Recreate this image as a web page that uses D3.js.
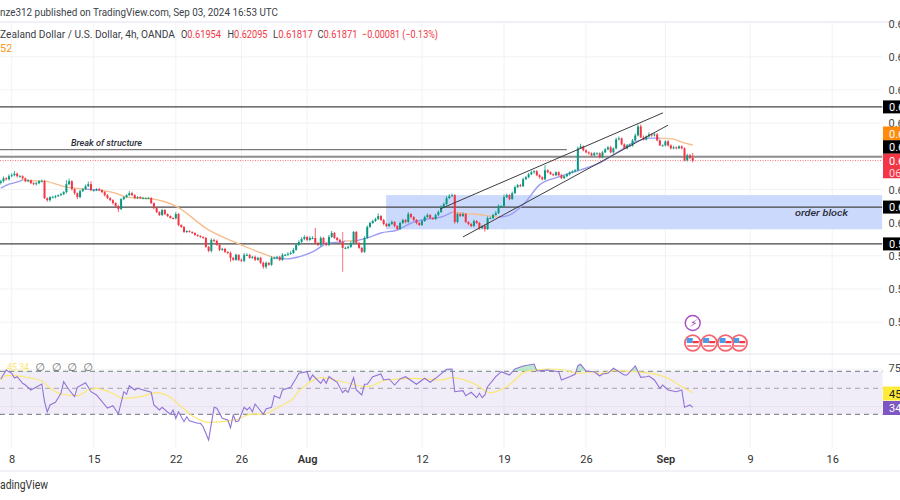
<!DOCTYPE html>
<html><head><meta charset="utf-8">
<style>html,body{margin:0;padding:0;background:#fff;overflow:hidden}svg{display:block}text{font-family:Roboto,sans-serif}</style>
<script src="https://cdn.jsdelivr.net/npm/d3@7/dist/d3.min.js"></script></head><body>
<svg id="c" width="900" height="500"></svg>
<script>
// 4h closes, first entry is bar -4, last is bar 249
const closes = [
0.6125,0.6134,0.6131,0.6140,0.6143,0.6148,0.6140,0.6140,0.6134,0.6125,
0.6128,0.6119,0.6116,0.6119,0.6125,0.6125,0.6074,0.6068,0.6077,0.6077,
0.6080,0.6083,0.6086,0.6092,0.6116,0.6125,0.6101,0.6089,0.6077,0.6095,
0.6101,0.6110,0.6116,0.6098,0.6098,0.6101,0.6098,0.6092,0.6083,0.6074,
0.6068,0.6059,0.6050,0.6041,0.6071,0.6077,0.6083,0.6089,0.6083,0.6074,
0.6077,0.6074,0.6074,0.6074,0.6074,0.6059,0.6044,0.6032,0.6023,0.6038,
0.6026,0.6020,0.6014,0.6013,0.6026,0.5993,0.5987,0.5972,0.5975,0.5972,
0.5969,0.5963,0.5960,0.5957,0.5954,0.5927,0.5915,0.5948,0.5945,0.5933,
0.5918,0.5921,0.5912,0.5909,0.5894,0.5888,0.5903,0.5888,0.5885,0.5903,
0.5903,0.5894,0.5897,0.5888,0.5894,0.5879,0.5867,0.5879,0.5873,0.5894,
0.5894,0.5897,0.5888,0.5903,0.5903,0.5906,0.5909,0.5918,0.5933,0.5942,
0.5951,0.5957,0.5948,0.5954,0.5954,0.5939,0.5933,0.5954,0.5939,0.5933,
0.5957,0.5969,0.5954,0.5948,0.5942,0.5924,0.5924,0.5927,0.5939,0.5972,
0.5939,0.5924,0.5912,0.5954,0.5987,0.5999,0.6005,0.6011,0.6020,0.6008,
0.5996,0.5990,0.5996,0.6002,0.5990,0.5981,0.5999,0.6008,0.6002,0.6026,
0.6017,0.6008,0.5999,0.5993,0.6005,0.6017,0.6023,0.6014,0.6011,0.6023,
0.6032,0.6047,0.6056,0.6074,0.6080,0.6083,0.6002,0.6026,0.6020,0.6026,
0.6002,0.5996,0.5990,0.6005,0.5999,0.5984,0.5990,0.5981,0.6014,0.6014,
0.6023,0.6029,0.6050,0.6050,0.6077,0.6083,0.6071,0.6089,0.6107,0.6113,
0.6110,0.6131,0.6137,0.6146,0.6152,0.6155,0.6143,0.6137,0.6131,0.6158,
0.6152,0.6146,0.6143,0.6152,0.6143,0.6134,0.6140,0.6146,0.6152,0.6155,
0.6158,0.6224,0.6230,0.6218,0.6212,0.6209,0.6203,0.6209,0.6209,0.6197,
0.6212,0.6221,0.6227,0.6212,0.6224,0.6251,0.6254,0.6236,0.6224,0.6233,
0.6233,0.6248,0.6263,0.6290,0.6257,0.6251,0.6260,0.6266,0.6263,0.6266,
0.6248,0.6233,0.6233,0.6245,0.6233,0.6224,0.6227,0.6224,0.6230,0.6224,
0.6188,0.6203,0.6195,0.6187];
// wick lengths above and below the candle body, in pips
const wickUp = [
4,5,3,6,6,8,3,4,3,2, 3,2,3,4,3,5,4,2,3,4, 3,2,4,3,12,8,3,2,2,4, 3,5,8,9,3,3,4,3,3,3,
3,3,3,4,3,3,3,6,4,3, 3,3,4,2,3,3,2,3,2,4, 3,2,2,2,6,3,2,3,2,2, 2,2,2,2,2,3,3,5,4,4,
3,3,3,2,4,3,4,2,3,6, 5,3,3,4,3,3,4,4,2,5, 4,3,3,5,3,5,5,6,4,5, 5,5,3,5,5,30,3,5,3,3,
6,6,3,3,3,30,4,4,6,3, 3,3,3,5,5,4,4,4,8,3, 3,3,4,5,3,3,4,4,3,6, 3,3,3,3,4,4,5,3,3,4,
5,5,5,6,6,5,3,5,4,5, 3,3,3,4,3,3,3,6,5,4, 4,6,5,3,8,5,3,5,5,4, 4,5,4,4,5,4,4,3,3,15,
3,3,3,3,3,4,3,3,3,3, 4,5,8,3,3,3,3,4,3,3, 4,4,4,5,3,5,6,3,3,4, 5,4,6,6,6,6,3,6,4,4,
4,3,3,3,4,3,5,3,3,3, 3,5,4,15];
const wickDown = [
5,4,4,4,3,3,4,3,4,3, 3,3,3,4,3,3,3,5,5,3, 4,3,3,3,4,3,4,5,6,3, 3,3,3,3,4,3,3,3,4,3,
3,4,4,9,3,3,3,3,3,3, 3,3,2,3,2,3,4,3,3,3, 3,3,2,3,3,4,3,3,3,2, 3,3,3,3,3,3,4,5,4,3,
4,3,4,4,12,3,3,4,3,4, 3,3,3,4,3,4,6,6,3,3, 4,5,4,3,4,3,3,3,3,3, 3,4,4,3,4,5,4,5,3,4,
4,3,3,3,4,72,4,4,3,4, 3,3,4,3,3,3,3,3,3,3, 4,4,3,3,4,3,3,3,4,3, 4,3,4,3,3,3,3,4,3,3,
3,3,3,3,3,3,5,4,3,3, 3,4,4,4,3,5,4,8,3,3, 3,2,3,3,4,3,3,2,3,3, 3,3,2,3,3,4,3,4,4,3,
3,2,3,3,3,3,2,3,4,3, 3,3,2,3,3,4,3,2,3,3, 3,2,3,3,4,3,3,3,2,3, 3,4,3,3,2,3,3,3,4,3,
3,2,3,3,4,3,3,3,2,3, 3,4,4,5];
const firstBar = -4;
const maBars = [-4,-1,3,4,7,11,20,27,32,38,42,51,60,72,83,96,101,105,110,116,121,122,126,130,135,141,147,152,157,161,163,169,175,178,182,187,193,200,208,215,221,227,234,237,242,245,249];
const maVals = [0.6104,0.6116,0.6125,0.6129,0.6126,0.6126,0.6107,0.6101,0.6098,0.6089,0.6077,0.6072,0.6050,0.5978,0.5936,0.5894,0.5891,0.5897,0.5912,0.5939,0.5942,0.5945,0.5945,0.5954,0.5969,0.5978,0.6002,0.6011,0.6017,0.6032,0.6029,0.6026,0.6020,0.6017,0.6023,0.6054,0.6114,0.6138,0.6159,0.6180,0.6210,0.6240,0.6255,0.6255,0.6252,0.6243,0.6234];
const maRanges = [[-4,4,"blue"],[4,27,"orange"],[27,32,"blue"],[32,96,"orange"],[96,122,"blue"],[122,126,"orange"],[126,161,"blue"],[161,178,"orange"],[178,237,"blue"],[237,249,"orange"]];
const levelPrices = [0.6349,0.6199,0.6047,0.5936];
const structureLevel = 0.6220;
const structureEndBar = 203;
const currentPrice = 0.61871;
const zoneBars = [136.9,318.3];
const zonePrices = [0.6083,0.5980];
const channelBars = [[156.6,238.1],[165,240]];
const channelPrices = [[0.6041,0.6331],[0.5957,0.6294]];
const priceTicks = [0.66,0.65,0.64,0.63,0.62,0.61,0.60,0.59,0.58,0.57];
const priceLabelTicks = [0.66,0.65,0.64,0.63,0.61,0.60,0.59,0.58,0.57];
const timeTickBars = [0,30,60,84,108,150,180,210,239,270,300];
const timeTickLabels = ["8","15","22","26","Aug","12","19","26","Sep","9","16"];
const rsiBars = [-4,-2,0,1,2,4,5,7,11,12,13,14,16,18,19,21,23,24,27,29,31,35,37,39,41,42,43,45,46,51,52,54,55,58,59,60,61,63,64,65,68,69,70,72,74,75,77,79,80,81,82,83,85,86,87,88,89,92,93,95,96,98,99,102,104,105,108,109,110,113,114,115,116,119,121,122,123,125,126,128,129,130,132,135,136,138,140,142,144,148,151,153,155,159,161,162,165,166,168,170,171,172,173,174,177,179,182,184,187,191,192,196,200,201,204,206,207,208,210,213,215,216,218,220,224,225,228,230,232,233,235,237,238,240,243,245,246,248,249];
const rsiVals = [65.3,74.3,71,66.3,67.6,61,59.3,54.3,60.3,42.6,32.3,39.3,42,51,62.6,54.3,47.6,57,61.6,52.6,49.3,36.3,38.6,30.3,52.6,50,58.6,54.3,56,52,39.3,34.3,37,30,34.3,26,32.6,22.6,27.6,23.6,21,21,17.6,4.3,37,36,26,24.3,16.6,29.3,22.6,23.6,37,34.3,37,32.6,40.3,30,35.3,37,48.6,46,54.3,57,66,71,72.6,64.3,69.3,61,65.3,61,67.6,62,51.6,54.3,52,66.6,54.3,49.3,60,60,67.6,70.3,64.3,65.3,59.3,65.3,67.6,60,66,62,66,75,75.3,52.6,53.6,48.6,52,46.6,51,46.6,49.3,57.6,67.6,72.6,69.3,75.3,78.3,80.3,73.3,74.3,72.6,64.3,67.6,70,78.6,80,73.3,72.6,68.3,70.3,71,76,69.3,69.3,78.3,67,67.6,68.3,64.3,56,59.3,54.3,52.6,54.3,37,39.3,37];
const rsiMaBars = [-4,-2,1,6,11,14,18,24,28,31,36,41,47,53,57,62,66,72,80,83,87,92,99,103,105,108,113,120,130,137,147,157,161,170,175,181,188,196,202,207,213,215,220,231,240,244,249];
const rsiMaVals = [64.3,68.6,68.6,66.6,63.3,56.3,50.3,48.6,54.3,56,52,46,47.6,51.6,48.6,37.6,28.6,22,23.6,25.3,30,30.3,39.3,46,53.3,60,66.6,63.3,57.6,64.3,66,64.3,66.6,59.3,51.6,57.6,72.6,75.3,74.3,71,72.6,70.3,73.6,72,66,59.3,51.6];
const rsiLevels = [73,56,30];
const rsiTicks = [75,37.6];
const eventBars = [249,255,261,266];
const headline = "nze312 published on TradingView.com, Sep 03, 2024 16:53 UTC";
const symbolTitle = "Zealand Dollar / U.S. Dollar, 4h, OANDA";
const ohlcLabels = ["O","H","L","C"];
const ohlcValues = ["0.61954","0.62095","0.61817","0.61871"];
const changeLabel = "\u22120.00081 (\u22120.13%)";

const W=900,H=500,plotR=882.5;
const green="#089981",red="#f23645",grid="#f2f1f6",ink="#3a3d46";
const svg=d3.select("#c");
const x=d3.scaleLinear().domain([0,300]).range([11.7,832.2]);
const y=d3.scaleLinear().domain([0.57,0.65]).range([322.2,56.8]);
const r=d3.scaleLinear().domain([30,75]).range([414.3,369.3]);
const bars=closes.map((c,k)=>{const o=k?closes[k-1]:c-0.0005;
  return {i:k+firstBar,o,c,h:Math.max(o,c)+wickUp[k]*1e-4,l:Math.min(o,c)-wickDown[k]*1e-4};});
const clipDefs=svg.append("defs");
clipDefs.append("clipPath").attr("id","main").append("rect").attr("x",0).attr("y",22).attr("width",plotR).attr("height",331);
clipDefs.append("clipPath").attr("id","above").append("rect").attr("x",0).attr("y",340).attr("width",plotR).attr("height",r(rsiLevels[0])-340);
function label(px,py,txt,size,fill,len){
  const t=svg.append("text").attr("x",px).attr("y",py).attr("font-size",size).attr("fill",fill).text(txt);
  if(len) t.attr("textLength",len).attr("lengthAdjust","spacingAndGlyphs");
  return t;
}

// header bands
svg.append("rect").attr("x",0).attr("y",21).attr("width",W).attr("height",2).attr("fill","#f0f0f6");
label(0,16,headline,11,"#3c3f49",278);
const ly=38;
label(0,ly,symbolTitle,11,ink,175);
const lx=[181,227.5,273,317.5];
ohlcLabels.forEach((t,k)=>{
  const e=svg.append("text").attr("x",lx[k]).attr("y",ly).attr("font-size",11)
    .attr("textLength",40).attr("lengthAdjust","spacingAndGlyphs");
  e.append("tspan").attr("fill",ink).text(t);
  e.append("tspan").attr("fill",red).text(ohlcValues[k]);
});
label(362,ly,changeLabel,11,red,76);
label(0,52,"52",11,"#f7931a");

// grids
svg.append("g").selectAll("line").data(priceTicks.slice(1)).join("line")
 .attr("x1",0).attr("x2",plotR).attr("y1",d=>y(d)).attr("y2",d=>y(d)).attr("stroke",grid);
svg.append("g").selectAll("line").data(timeTickBars).join("line")
 .attr("x1",d=>x(d)).attr("x2",d=>x(d)).attr("y1",23).attr("y2",448).attr("stroke",grid);
svg.append("g").selectAll("line").data(rsiTicks).join("line")
 .attr("x1",0).attr("x2",plotR).attr("y1",d=>r(d)).attr("y2",d=>r(d)).attr("stroke",grid);

// main pane
const main=svg.append("g").attr("clip-path","url(#main)");
main.append("rect").attr("x",x(zoneBars[0])).attr("width",x(zoneBars[1])-x(zoneBars[0]))
 .attr("y",y(zonePrices[0])).attr("height",y(zonePrices[1])-y(zonePrices[0])).attr("fill","#cbd9fd");
main.selectAll(".lvl").data(levelPrices).join("line").attr("class","lvl")
 .attr("x1",0).attr("x2",plotR).attr("y1",d=>y(d)).attr("y2",d=>y(d))
 .attr("stroke",(d,k)=>k==1?"#8d8d8d":"#454545").attr("stroke-width",(d,k)=>k==1?2:1.3);
main.append("line").attr("x1",0).attr("x2",x(structureEndBar)).attr("y1",y(structureLevel)).attr("y2",y(structureLevel)).attr("stroke","#5a5a5a").attr("stroke-width",1);
main.append("line").attr("x1",0).attr("x2",plotR).attr("y1",y(currentPrice)).attr("y2",y(currentPrice))
 .attr("stroke",red).attr("stroke-opacity",.7).attr("stroke-dasharray","1 1.5");
const maPts=maBars.map((b,k)=>({b,v:maVals[k]}));
const ml=d3.line().x(d=>x(d.b)).y(d=>y(d.v)).curve(d3.curveMonotoneX);
const maCol={blue:"#9c9cf5",orange:"#f7bd8b"};
maRanges.forEach(([a,b,c])=>{
 main.append("path").attr("d",ml(maPts.filter(p=>p.b>=a&&p.b<=b))).attr("fill","none").attr("stroke",maCol[c]).attr("stroke-width",1.4);
});
const cg=main.append("g");
cg.selectAll(".w").data(bars).join("line").attr("class","w")
 .attr("x1",d=>x(d.i)).attr("x2",d=>x(d.i)).attr("y1",d=>y(d.h)).attr("y2",d=>y(d.l))
 .attr("stroke",d=>d.c>=d.o?green:red).attr("stroke-width",d=>d.i==121?1.2:.8).attr("stroke-opacity",d=>d.i==121?.55:1);
cg.selectAll(".b").data(bars).join("rect").attr("class","b")
 .attr("x",d=>x(d.i)-1).attr("width",2)
 .attr("y",d=>y(Math.max(d.o,d.c))).attr("height",d=>Math.max(1,Math.abs(y(d.o)-y(d.c))))
 .attr("fill",d=>d.c>=d.o?green:red);
channelBars.forEach((bb,k)=>{
 main.append("line").attr("x1",x(bb[0])).attr("x2",x(bb[1])).attr("y1",y(channelPrices[k][0])).attr("y2",y(channelPrices[k][1]))
  .attr("stroke","#3d3d3d").attr("stroke-width",1);
});
label(71,146,"Break of structure",9.5,"#2a2e39",71).attr("font-style","italic").attr("font-weight",500);
label(795,215.5,"order block",9.5,"#2a2e39",53).attr("font-style","italic").attr("font-weight",500);

// events
const ev=svg.append("g");
ev.append("circle").attr("cx",x(eventBars[0])).attr("cy",323).attr("r",7.5).attr("fill","#fff").attr("stroke","#a64dc5").attr("stroke-width",1.4);
ev.append("text").attr("x",x(eventBars[0])).attr("y",327).attr("text-anchor","middle").attr("font-size",11).attr("font-style","italic").attr("fill","#a64dc5").text("\u26A1\uFE0E");
eventBars.slice().reverse().forEach(b=>{
 const g=ev.append("g").attr("transform",`translate(${x(b)},343)`);
 g.append("circle").attr("r",7.8).attr("fill","#fff").attr("stroke","#f5656f").attr("stroke-width",1.8);
 g.append("rect").attr("x",-6).attr("y",-5).attr("width",6).attr("height",5).attr("fill","#4b9be8");
 g.append("rect").attr("x",0).attr("y",-2).attr("width",6).attr("height",2.2).attr("fill","#f23645");
 g.append("rect").attr("x",-5.5).attr("y",2).attr("width",11).attr("height",2).attr("fill","#f98a90");
});

// separators
svg.append("line").attr("x1",0).attr("x2",W).attr("y1",354).attr("y2",354).attr("stroke","#e6e5ee").attr("stroke-width",1.2);
svg.append("line").attr("x1",0).attr("x2",W).attr("y1",471).attr("y2",471).attr("stroke","#e6e5ee").attr("stroke-width",1.2);

// RSI pane
svg.append("rect").attr("x",0).attr("width",plotR).attr("y",r(rsiLevels[0])).attr("height",r(rsiLevels[2])-r(rsiLevels[0])).attr("fill","#7e57c2").attr("fill-opacity",.11);
svg.append("g").selectAll("line").data(rsiLevels).join("line")
 .attr("x1",0).attr("x2",plotR).attr("y1",d=>r(d)).attr("y2",d=>r(d)).attr("stroke","#6f7280").attr("stroke-dasharray","5 4")
 .attr("stroke-opacity",(d,k)=>k==1?.6:1);
const rsiPts=rsiBars.map((b,k)=>({b,v:rsiVals[k]}));
svg.append("path").datum(rsiPts).attr("clip-path","url(#above)")
 .attr("d",d3.area().x(d=>x(d.b)).y0(r(rsiLevels[0])).y1(d=>r(d.v))).attr("fill","#9fe0b9").attr("fill-opacity",.7);
svg.append("path").datum(rsiMaBars.map((b,k)=>({b,v:rsiMaVals[k]})))
 .attr("d",d3.line().x(d=>x(d.b)).y(d=>r(d.v)).curve(d3.curveMonotoneX)).attr("fill","none").attr("stroke","#fbe772").attr("stroke-width",1.2);
svg.append("path").datum(rsiPts)
 .attr("d",d3.line().x(d=>x(d.b)).y(d=>r(d.v))).attr("fill","none").attr("stroke","#9173d6").attr("stroke-width",1.1);
label(7,371,"45.34",11,"#fbe772",22);
[40,56.5,72,88].forEach(px=>svg.append("text").attr("x",px).attr("y",371).attr("text-anchor","middle").style("font-family","DejaVu Sans").attr("font-size",11).attr("fill","#666").text("\u2205"));

// axes
const ax=svg.append("g").attr("transform","translate(0,448)")
 .call(d3.axisBottom(x).tickValues(timeTickBars).tickSize(0).tickPadding(7).tickFormat((d,k)=>timeTickLabels[k]));
ax.select(".domain").remove();
ax.selectAll("text").attr("font-size",11).attr("fill","#333").style("font-family","Roboto,sans-serif")
 .attr("font-weight",(d,k)=>/[A-Z]/.test(timeTickLabels[k])?600:400);
const ay=svg.append("g").attr("transform","translate(888.5,0)")
 .call(d3.axisRight(y).tickValues(priceLabelTicks).tickSize(0).tickPadding(0).tickFormat(d=>d<0.6?"0.5":"0.6"));
ay.select(".domain").remove();
ay.selectAll("text").attr("font-size",11).attr("fill","#444").style("font-family","Roboto,sans-serif");
const ar=svg.append("g").attr("transform","translate(888.5,-1.5)")
 .call(d3.axisRight(r).tickValues([75]).tickSize(0).tickPadding(0).tickFormat(d=>String(d)));
ar.select(".domain").remove();
ar.selectAll("text").attr("font-size",11).attr("fill","#444").style("font-family","Roboto,sans-serif");

// price chips
function chip(cy,h,fill,txtLabel,txt){
 svg.append("rect").attr("x",883).attr("y",cy-h/2).attr("width",17).attr("height",h).attr("fill",fill);
 svg.append("text").attr("x",889).attr("y",cy+4).attr("font-size",11).attr("fill",txt).text(txtLabel);
}
chip(y(levelPrices[0]),13,"#000","0.6","#fff");
chip(133.5,14,"#ff8a0c","0.6","#fff");
chip(147,13.5,"#000","0.6","#fff");
chip(160.5,13.5,"#f23645","0.6","#fff");
chip(172.5,11.5,"#f23645","06","#ffd5d9");
chip(y(levelPrices[2]),13,"#000","0.6","#fff");
chip(y(levelPrices[3]),13,"#000","0.5","#fff");
chip(393.5,14,"#fdeb3a","45","#222");
chip(408,14,"#7e57c2","34","#fff");

label(0,489,"adingView",12.5,"#333",48);
</script></body></html>
